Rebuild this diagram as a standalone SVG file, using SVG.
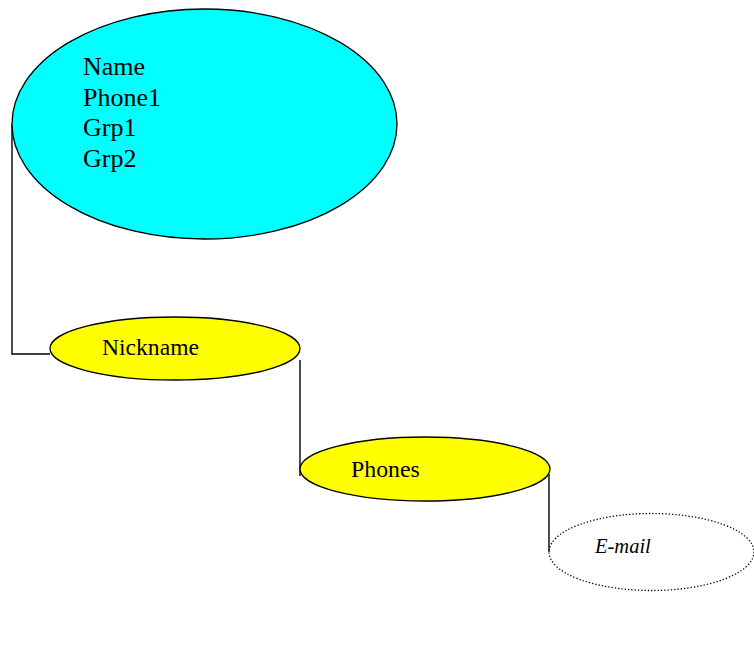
<svg xmlns="http://www.w3.org/2000/svg" width="754" height="664" viewBox="0 0 754 664">
<style>
.t{font-family:"Liberation Serif","Times New Roman",serif;fill:#000}
.n{stroke:#000;stroke-width:1.3}
.c{fill:none;stroke:#000;stroke-width:1.4}
</style>
<rect width="754" height="664" fill="#fff"/>
<g id="connectors">
<polyline class="c" points="12,124 12,354 50,354"/>
<line class="c" x1="300" y1="360" x2="300" y2="476"/>
<line class="c" x1="549" y1="474" x2="549" y2="552"/>
</g>
<g id="main">
<ellipse class="n" cx="204.5" cy="124" rx="192.5" ry="115" fill="#00ffff"/>
<text class="t" x="83" y="75" font-size="26">Name</text>
<text class="t" x="83" y="105.5" font-size="26">Phone1</text>
<text class="t" x="83" y="136" font-size="26">Grp1</text>
<text class="t" x="83" y="166.5" font-size="26">Grp2</text>
</g>
<g id="nickname">
<ellipse class="n" cx="175" cy="348.5" rx="125" ry="31.5" fill="#ffff00"/>
<text class="t" x="102" y="355" font-size="23.6">Nickname</text>
</g>
<g id="phones">
<ellipse class="n" cx="425" cy="469" rx="125" ry="32" fill="#ffff00"/>
<text class="t" x="351" y="476.5" font-size="23.8">Phones</text>
</g>
<g id="email">
<ellipse cx="651.5" cy="552" rx="102.5" ry="38.5" fill="none" stroke="#000" stroke-width="1.3" stroke-dasharray="1.3 2"/>
<text class="t" x="595" y="552.5" font-size="20.5" font-style="italic">E-mail</text>
</g>
</svg>
